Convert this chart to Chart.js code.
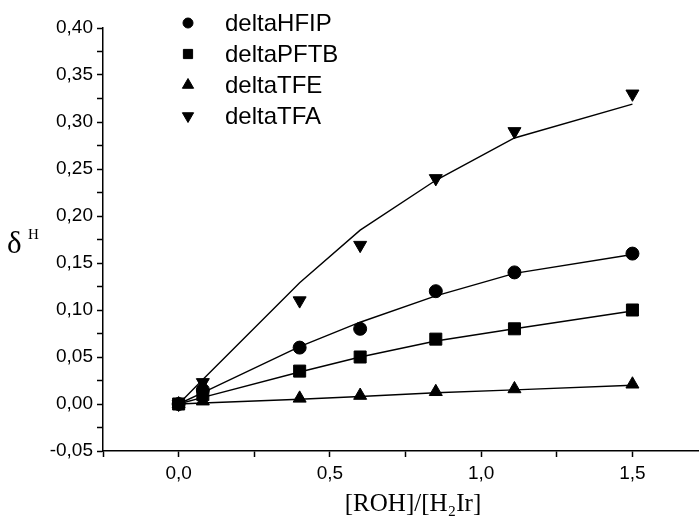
<!DOCTYPE html>
<html>
<head>
<meta charset="utf-8">
<script src="https://cdn.jsdelivr.net/npm/chart.js@4.4.0/dist/chart.umd.min.js"></script>
<style>
  body { margin: 0; background: #fff; }
  canvas { display: block; }
</style>
</head>
<body>
<canvas id="myChart" width="699" height="516"></canvas>
<script>
// значення x (спільні для всіх серій)
const xValues = [0, 0.08, 0.4, 0.6, 0.85, 1.11, 1.5];

// виміряні точки
const hfipPoints = [0, 0.015, 0.060, 0.080, 0.120, 0.140, 0.160];
const pftbPoints = [0, 0.010, 0.035, 0.050, 0.069, 0.080, 0.100];
const tfePoints  = [0, 0.003, 0.006, 0.009, 0.013, 0.016, 0.021];
const tfaPoints  = [0, 0.023, 0.110, 0.169, 0.240, 0.290, 0.330];

// лінії апроксимації
const hfipFit = [0, 0.012, 0.061, 0.087, 0.115, 0.139, 0.159];
const pftbFit = [0, 0.007, 0.034, 0.050, 0.067, 0.080, 0.099];
const tfeFit  = [0, 0.001, 0.005, 0.008, 0.012, 0.015, 0.020];
const tfaFit  = [0, 0.026, 0.129, 0.185, 0.238, 0.283, 0.319];

const seriesNames = ['deltaHFIP', 'deltaPFTB', 'deltaTFE', 'deltaTFA'];

// тіки осей
const xTicks = [-0.25, 0, 0.25, 0.5, 0.75, 1, 1.25, 1.5];
const yTicks = [];
for (let i = -2; i <= 16; i++) yTicks.push(i * 0.025);

function toXY(ys) {
  return xValues.map((x, i) => ({ x: x, y: ys[i] }));
}

function fitLine(ys) {
  return {
    type: 'line',
    data: toXY(ys),
    borderColor: '#000',
    borderWidth: 1.4,
    pointRadius: 0,
    fill: false,
    tension: 0,
    isFit: true
  };
}

function markers(label, ys, style, radius, rotation) {
  return {
    type: 'scatter',
    label: label,
    data: toXY(ys),
    pointStyle: style,
    pointRadius: radius,
    pointRotation: rotation || 0,
    backgroundColor: '#000',
    borderColor: '#000',
    borderWidth: 1,
    showLine: false
  };
}

function fmt(v) {
  return v.toFixed(2).replace('.', ',');
}

// легенда зверху в області графіка
const legendPlugin = {
  id: 'markerLegend',
  afterDraw(chart) {
    const ctx = chart.ctx;
    const marks = chart.data.datasets.filter(d => !d.isFit);
    const sizes = [5, 6.5, 6.5, 6.5];
    ctx.save();
    ctx.font = '24px "Liberation Sans", Arial, sans-serif';
    ctx.fillStyle = '#000';
    ctx.textBaseline = 'middle';
    marks.forEach((d, i) => {
      const y = 23 + i * 31;
      Chart.helpers.drawPoint(ctx, {
        pointStyle: d.pointStyle,
        radius: sizes[i],
        rotation: d.pointRotation,
        borderWidth: 1
      }, 188, y);
      ctx.fillStyle = '#000';
      ctx.fillText(d.label, 225, y + 1);
    });
    ctx.restore();
  }
};

// підписи осей: δ з верхнім індексом H та [ROH]/[H2Ir]
const axisTitlePlugin = {
  id: 'axisTitles',
  afterDraw(chart) {
    const ctx = chart.ctx;
    ctx.save();
    ctx.fillStyle = '#000';
    ctx.textBaseline = 'alphabetic';
    ctx.font = '31px "Liberation Serif", "Times New Roman", serif';
    ctx.fillText('δ', 7, 253);
    ctx.font = '15px "Liberation Serif", "Times New Roman", serif';
    ctx.fillText('H', 28, 239);
    ctx.font = '25px "Liberation Serif", "Times New Roman", serif';
    ctx.textAlign = 'center';
    ctx.fillText('[ROH]/[H₂Ir]', 413, 511);
    ctx.restore();
  }
};

const ctx = document.getElementById('myChart').getContext('2d');

const myChart = new Chart(ctx, {
  data: {
    datasets: [
      fitLine(hfipFit),
      fitLine(pftbFit),
      fitLine(tfeFit),
      fitLine(tfaFit),
      markers(seriesNames[0], hfipPoints, 'circle', 6.5),
      markers(seriesNames[1], pftbPoints, 'rect', 8.5),
      markers(seriesNames[2], tfePoints, 'triangle', 7.5),
      markers(seriesNames[3], tfaPoints, 'triangle', 7.5, 180)
    ]
  },
  options: {
    responsive: false,
    animation: false,
    layout: { autoPadding: false, padding: { top: 28, right: 0, left: 0, bottom: 0 } },
    plugins: {
      legend: { display: false },
      tooltip: { enabled: false }
    },
    scales: {
      x: {
        type: 'linear',
        min: -0.25,
        max: 1.72,
        afterBuildTicks(scale) {
          scale.ticks = xTicks.map(v => ({ value: v }));
        },
        afterFit(scale) {
          scale.height = 65;
          scale.paddingLeft = 0;
          scale.paddingRight = 0;
        },
        border: { display: true, color: '#000', width: 1.5 },
        grid: {
          display: true,
          drawOnChartArea: false,
          drawTicks: true,
          tickLength: 6,
          tickColor: '#000',
          tickWidth: 1.5
        },
        ticks: {
          autoSkip: false,
          maxRotation: 0,
          padding: 5,
          color: '#000',
          font: { family: '"Liberation Sans", Arial, sans-serif', size: 19 },
          callback(v) {
            const r = Math.round(v * 100);
            if (r % 50 !== 0 || v < 0) return '';
            return v.toFixed(1).replace('.', ',');
          }
        }
      },
      y: {
        type: 'linear',
        min: -0.05,
        max: 0.40,
        afterBuildTicks(scale) {
          scale.ticks = yTicks.map(v => ({ value: v }));
        },
        afterFit(scale) {
          scale.width = 103;
          scale.paddingTop = 0;
          scale.paddingBottom = 0;
        },
        border: { display: true, color: '#000', width: 1.5 },
        grid: {
          display: true,
          drawOnChartArea: false,
          drawTicks: true,
          tickLength: 6,
          tickColor: '#000',
          tickWidth: 1.5
        },
        ticks: {
          autoSkip: false,
          padding: 4,
          color: '#000',
          font: { family: '"Liberation Sans", Arial, sans-serif', size: 19 },
          callback(v) {
            const r = Math.round(v * 1000);
            if (r % 50 !== 0) return '';
            return fmt(v);
          }
        }
      }
    }
  },
  plugins: [legendPlugin, axisTitlePlugin]
});
</script>
</body>
</html>
